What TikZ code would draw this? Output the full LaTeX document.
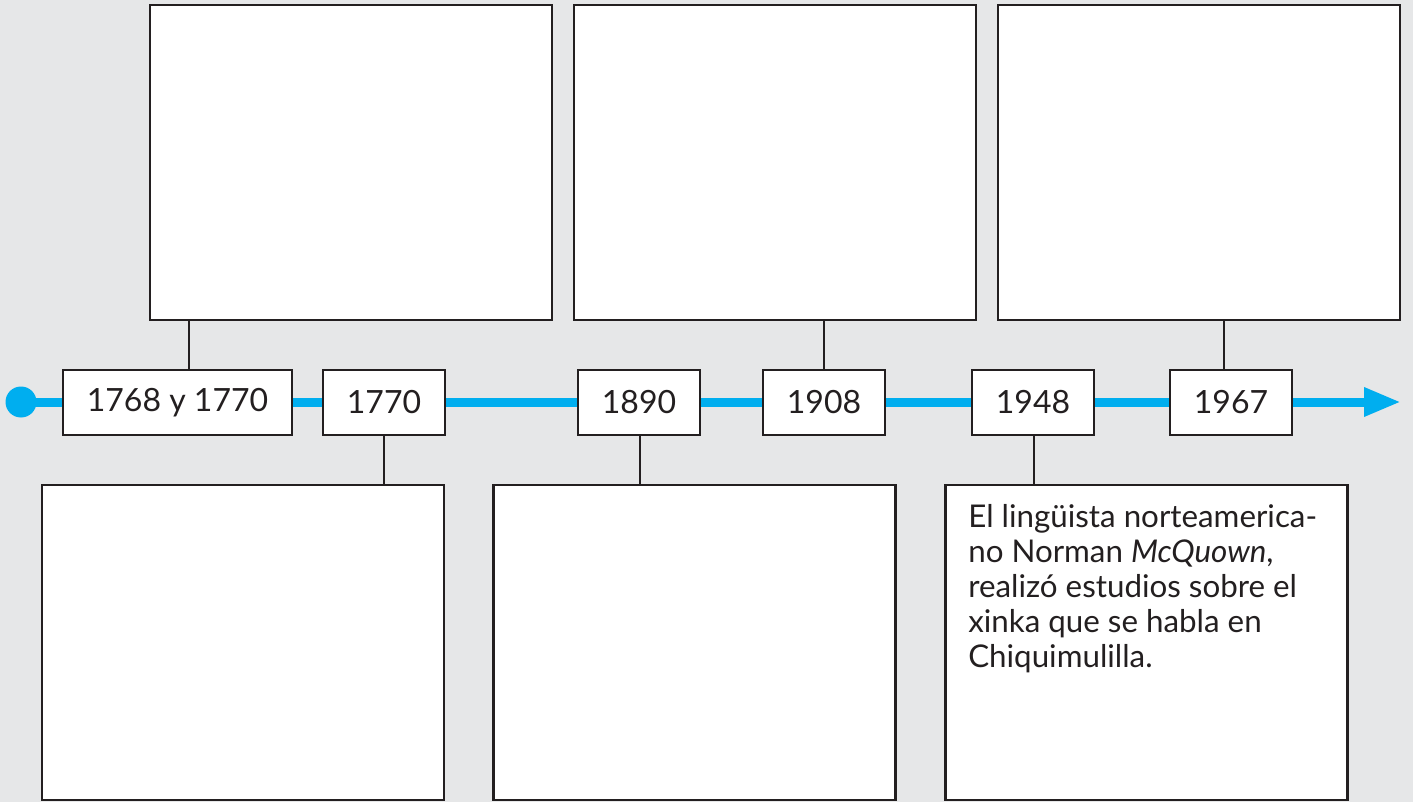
\documentclass[tikz,border=0pt]{standalone}
\usepackage{fontspec}
\setmainfont{Lato}
\usetikzlibrary{arrows.meta}
\definecolor{bg}{HTML}{E6E7E8}
\definecolor{ink}{HTML}{231F20}
\definecolor{tline}{HTML}{00AEEF}
\tikzset{
  bigbox/.style={draw=ink, fill=white, line width=2.1pt, minimum width=301.5pt, minimum height=236.25pt, inner sep=0pt},
  datebox/.style={draw=ink, fill=white, line width=2.1pt, minimum height=48.75pt, inner sep=0pt, font=\fontsize{24}{28}\selectfont, text=ink},
  link/.style={draw=ink, line width=2.1pt},
  axis/.style={draw=tline, line width=6.75pt, -{Triangle[length=27.75pt,width=20.25pt]}},
}
\begin{document}
\begin{tikzpicture}[x=0.75pt,y=-0.75pt]
\fill[bg] (0,0) rectangle (1413,802);
\useasboundingbox (0,0) rectangle (1413,802);
% big boxes
\node[bigbox] (t1) at (351,162.5) {};
\node[bigbox] (t2) at (775,162.5) {};
\node[bigbox] (t3) at (1199,162.5) {};
\node[bigbox] (b1) at (243,642.5) {};
\node[bigbox] (b2) at (694.5,642.5) {};
\node[bigbox] (b3) at (1146.5,642.5) {};
% timeline
\node[circle, fill=tline, minimum size=23.25pt, inner sep=0pt] (dot) at (21,402) {};
\coordinate (tip) at (1401,402);
\draw[axis] (dot.center) -- (tip);
% date boxes
\node[datebox, minimum width=171.75pt] (d1) at (177.5,402.5) {1768 y 1770};
\node[datebox, minimum width=91.5pt] (d2) at (384,402.5) {1770};
\node[datebox, minimum width=91.5pt] (d3) at (639,402.5) {1890};
\node[datebox, minimum width=91.5pt] (d4) at (824,402.5) {1908};
\node[datebox, minimum width=91.5pt] (d5) at (1033,402.5) {1948};
\node[datebox, minimum width=91.5pt] (d6) at (1231,402.5) {1967};
% connector x positions
\coordinate (x1) at (189,0);
\coordinate (x4) at (824,0);
\coordinate (x6) at (1224,0);
\coordinate (x2) at (384,0);
\coordinate (x3) at (640,0);
\coordinate (x5) at (1034,0);
\draw[link] (t1.south -| x1) -- (d1.north -| x1);
\draw[link] (t2.south -| x4) -- (d4.north -| x4);
\draw[link] (t3.south -| x6) -- (d6.north -| x6);
\draw[link] (d2.south -| x2) -- (b1.north -| x2);
\draw[link] (d3.south -| x3) -- (b2.north -| x3);
\draw[link] (d5.south -| x5) -- (b3.north -| x5);
% text
\node[anchor=north west, inner sep=0pt, align=left, text=ink, font=\fontsize{23.5}{26.3}\selectfont] (txt) at (968,504)
{El lingüista norteamerica-\\no Norman \textit{McQuown},\\realizó estudios sobre el\\xinka que se habla en\\Chiquimulilla.};
\end{tikzpicture}
\end{document}
